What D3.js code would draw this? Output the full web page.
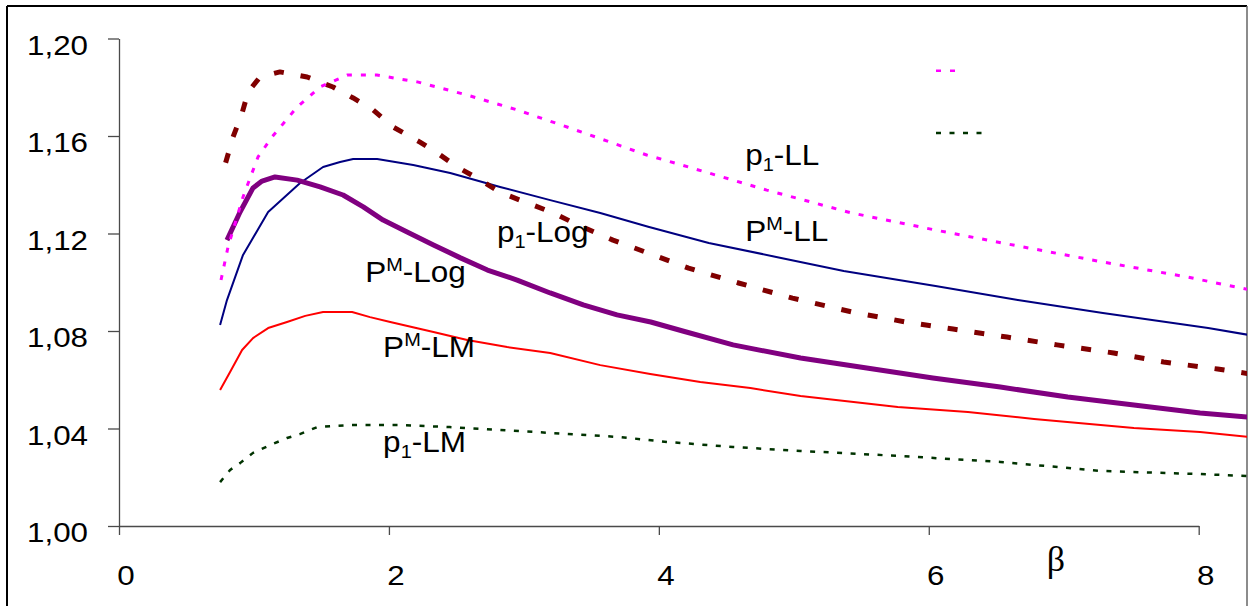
<!DOCTYPE html>
<html>
<head>
<meta charset="utf-8">
<script src="https://cdn.jsdelivr.net/npm/d3@7"></script>
<style>
  body { margin: 0; background: #fff; }
  svg { display: block; }
</style>
</head>
<body>
<div id="graph"></div>
<script>
// tick values
const xTicks = [0, 2, 4, 6, 8];
const yTicks = [1.00, 1.04, 1.08, 1.12, 1.16, 1.20];

// p1-LL (magenta, dotted)
const betaP1LL = [0.756, 0.808, 0.919, 1.03, 1.134, 1.32, 1.49, 1.69, 1.91, 2.21, 2.58, 2.95, 3.32, 3.91, 4.12, 4.80, 5.43, 6.05, 6.66, 7.29, 7.91, 8.37];
const valP1LL = [1.1009, 1.1145, 1.135, 1.1514, 1.1596, 1.1719, 1.1801, 1.185, 1.185, 1.1822, 1.1768, 1.1707, 1.1637, 1.1522, 1.1489, 1.1378, 1.1284, 1.1214, 1.1149, 1.1083, 1.1022, 1.0970];

// p1-Log (dark red, thick dashed)
const betaP1Log = [0.79, 0.845, 0.912, 0.956, 1.045, 1.193, 1.394, 1.586, 1.735, 1.883, 2.03, 2.23, 2.38, 2.505, 2.65, 2.82, 2.97, 3.22, 3.40, 3.66, 3.90, 4.22, 4.59, 4.99, 5.43, 5.83, 6.18, 6.58, 6.95, 7.37, 7.74, 8.14, 8.37];
const valP1Log = [1.149, 1.1596, 1.1694, 1.178, 1.1842, 1.1863, 1.1842, 1.1801, 1.1756, 1.1707, 1.1637, 1.1575, 1.1522, 1.1473, 1.1428, 1.137, 1.1337, 1.1284, 1.1235, 1.1173, 1.1124, 1.1058, 1.0997, 1.0935, 1.0878, 1.0837, 1.0808, 1.0775, 1.0743, 1.071, 1.0673, 1.0644, 1.0625];

// PM-LL (navy)
const betaPMLL = [0.749, 0.80, 0.919, 1.105, 1.342, 1.512, 1.638, 1.735, 1.913, 2.18, 2.454, 2.824, 3.195, 3.566, 3.921, 4.37, 4.87, 5.37, 6.05, 6.66, 7.29, 8.07, 8.37];
const valPMLL = [1.0825, 1.0927, 1.1112, 1.1288, 1.1407, 1.1473, 1.1493, 1.1506, 1.1506, 1.1481, 1.1448, 1.1391, 1.1337, 1.1284, 1.1228, 1.1161, 1.1104, 1.1046, 1.0985, 1.0927, 1.0874, 1.0812, 1.0784];

// PM-Log (purple, thick)
const betaPMLog = [0.80, 0.897, 0.993, 1.06, 1.156, 1.32, 1.49, 1.66, 1.81, 1.957, 2.135, 2.33, 2.53, 2.73, 2.95, 3.195, 3.44, 3.69, 3.94, 4.19, 4.55, 5.05, 5.54, 6.03, 6.53, 7.03, 7.52, 8.01, 8.37];
const valPMLog = [1.1173, 1.1288, 1.1387, 1.1415, 1.1432, 1.1419, 1.1391, 1.1358, 1.1309, 1.1255, 1.1206, 1.1153, 1.11, 1.105, 1.1009, 1.0956, 1.0907, 1.0866, 1.0837, 1.0798, 1.0743, 1.0689, 1.0648, 1.0607, 1.057, 1.0529, 1.0496, 1.0464, 1.0447];

// PM-LM (red)
const betaPMLM = [0.749, 0.823, 0.912, 0.993, 1.105, 1.245, 1.38, 1.512, 1.727, 1.86, 2.01, 2.33, 2.58, 2.876, 3.195, 3.566, 3.936, 4.307, 4.678, 5.05, 5.77, 6.29, 6.78, 7.52, 8.01, 8.37];
const valPMLM = [1.0558, 1.0632, 1.0722, 1.0771, 1.0812, 1.0837, 1.0862, 1.0878, 1.0878, 1.0857, 1.0837, 1.0796, 1.0763, 1.0734, 1.071, 1.066, 1.0624, 1.0591, 1.0566, 1.0533, 1.0488, 1.0468, 1.0439, 1.0402, 1.0386, 1.0365];

// p1-LM (dark green, dotted)
const betaP1LM = [0.749, 0.823, 0.897, 0.993, 1.12, 1.245, 1.34, 1.47, 1.71, 2.08, 2.45, 2.82, 3.195, 3.71, 4.06, 4.55, 5.05, 5.79, 6.53, 7.27, 8.01, 8.37];
const valP1LM = [1.018, 1.023, 1.0258, 1.03, 1.0332, 1.0361, 1.0377, 1.0406, 1.0414, 1.0414, 1.0406, 1.0394, 1.0382, 1.0365, 1.0345, 1.0324, 1.0308, 1.0287, 1.0263, 1.0226, 1.0213, 1.0205];

const W = 1252, H = 606;

let svg = d3.select("#graph")
    .append("svg")
    .attr("width", W)
    .attr("height", H);

svg.append("rect").attr("width", W).attr("height", H).attr("fill", "#fff");

let x = d3.scaleLinear().domain([0, 8]).range([119, 1198.7]);
let y = d3.scaleLinear().domain([1.0, 1.2]).range([526, 38.5]);

// outer frame (left/top black, right gray)
svg.append("line").attr("x1", 7).attr("x2", 7).attr("y1", 6).attr("y2", H)
    .attr("stroke", "#000").attr("stroke-width", 2);
svg.append("line").attr("x1", 7).attr("x2", 1247).attr("y1", 6).attr("y2", 6)
    .attr("stroke", "#000").attr("stroke-width", 2);
svg.append("line").attr("x1", 1247).attr("x2", 1247).attr("y1", 6).attr("y2", H)
    .attr("stroke", "#666").attr("stroke-width", 1.5);

// axes
let yAxis = svg.append("g")
    .attr("transform", `translate(${x(0)},0)`)
    .call(d3.axisLeft(y).tickValues(yTicks).tickSize(11).tickSizeOuter(0).tickFormat(""));
let xAxis = svg.append("g")
    .attr("transform", `translate(0,${y(1.0)})`)
    .call(d3.axisBottom(x).tickValues(xTicks).tickSize(9).tickSizeOuter(0).tickFormat(""));
[yAxis, xAxis].forEach(g => {
    g.selectAll("path, line").attr("stroke", "#4a4a4a").attr("stroke-width", 1.3);
});

const fmt = d => d.toFixed(2).replace(".", ",");

svg.append("g").selectAll("text").data(yTicks).enter()
    .append("text")
    .attr("transform", d => `translate(88,${y(d) + 16}) scale(1.12,1)`)
    .attr("text-anchor", "end")
    .style("font-family", "'Liberation Sans', Arial, sans-serif")
    .style("font-size", "28px")
    .text(fmt);

svg.append("g").selectAll("text").data(xTicks).enter()
    .append("text")
    .attr("transform", d => `translate(${x(d) + 7},585) scale(1.12,1)`)
    .attr("text-anchor", "middle")
    .style("font-family", "'Liberation Sans', Arial, sans-serif")
    .style("font-size", "28px")
    .text(d => d);

svg.append("text")
    .attr("x", 1056).attr("y", 571)
    .attr("text-anchor", "middle")
    .style("font-family", "'Liberation Serif', 'Times New Roman', serif")
    .style("font-size", "36px")
    .text("β");

// series
svg.append("clipPath").attr("id", "plotclip")
    .append("rect").attr("x", x(0)).attr("y", 0).attr("width", 1247 - x(0)).attr("height", H);

const series = [
    {beta: betaP1LM, val: valP1LM, color: "#003300", width: 2.5, dash: "5,8.5"},
    {beta: betaPMLM, val: valPMLM, color: "#ff0000", width: 2, dash: null},
    {beta: betaPMLL, val: valPMLL, color: "#000080", width: 2, dash: null},
    {beta: betaPMLog, val: valPMLog, color: "#800080", width: 5, dash: null},
    {beta: betaP1Log, val: valP1Log, color: "#800000", width: 5, dash: "10,17"},
    {beta: betaP1LL, val: valP1LL, color: "#ff00ff", width: 3, dash: "5,9"}
];

let line = d3.line()
    .x(d => x(d[0]))
    .y(d => y(d[1]));

let plot = svg.append("g").attr("clip-path", "url(#plotclip)");
series.forEach(s => {
    plot.append("path")
        .datum(d3.zip(s.beta, s.val))
        .attr("d", line)
        .attr("fill", "none")
        .attr("stroke", s.color)
        .attr("stroke-width", s.width)
        .attr("stroke-dasharray", s.dash)
        .attr("stroke-linejoin", "round");
});

// curve labels (base, script, rest, super?)
const labels = [
    {b: 4.64, v: 1.148, base: "p", sc: "1", rest: "-LL", sup: false},
    {b: 4.64, v: 1.1169, base: "P", sc: "M", rest: "-LL", sup: true},
    {b: 2.80, v: 1.1165, base: "p", sc: "1", rest: "-Log", sup: false},
    {b: 1.824, v: 1.1001, base: "P", sc: "M", rest: "-Log", sup: true},
    {b: 1.957, v: 1.0693, base: "P", sc: "M", rest: "-LM", sup: true},
    {b: 1.957, v: 1.0304, base: "p", sc: "1", rest: "-LM", sup: false}
];

labels.forEach(l => {
    let t = svg.append("text")
        .attr("transform", `translate(${x(l.b)},${y(l.v)}) scale(1.05,1)`)
        .style("font-family", "'Liberation Sans', Arial, sans-serif")
        .style("font-size", "30px");
    t.append("tspan").text(l.base);
    t.append("tspan").attr("dy", l.sup ? -11 : 6).style("font-size", "19px").text(l.sc);
    t.append("tspan").attr("dy", l.sup ? 11 : -6).text(l.rest);
});

// legend line samples (labels are missing in the original)
svg.append("line").attr("x1", 936).attr("x2", 958).attr("y1", 70.7).attr("y2", 70.7)
    .attr("stroke", "#ff00ff").attr("stroke-width", 2.5).attr("stroke-dasharray", "5,9");
svg.append("line").attr("x1", 936).attr("x2", 984).attr("y1", 133).attr("y2", 133)
    .attr("stroke", "#003300").attr("stroke-width", 2.5).attr("stroke-dasharray", "5,8.5");
</script>
</body>
</html>
